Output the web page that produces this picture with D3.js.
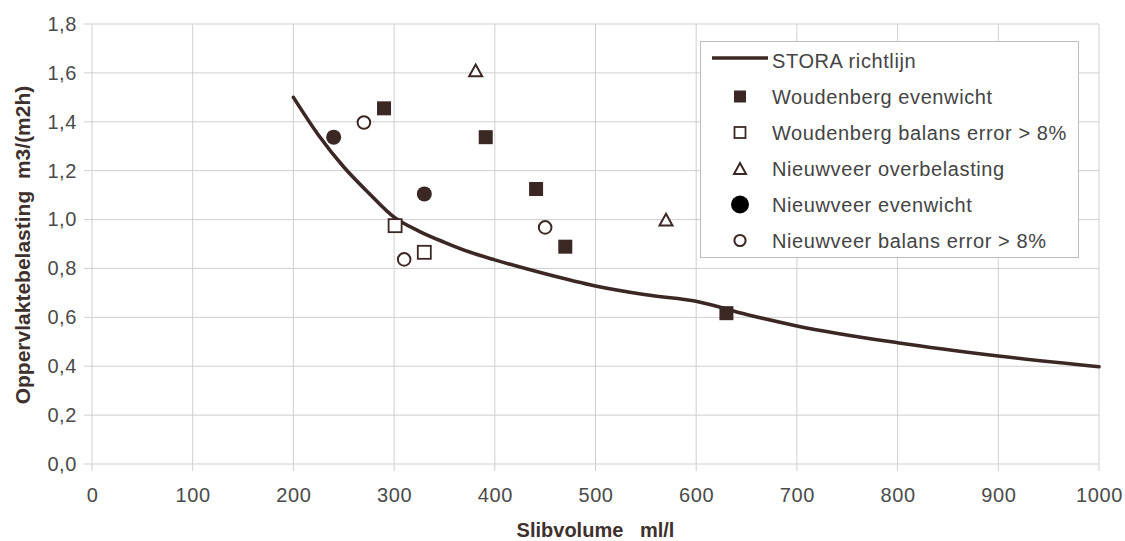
<!DOCTYPE html>
<html>
<head>
<meta charset="utf-8">
<script src="https://cdn.jsdelivr.net/npm/d3@7"></script>
<style>
  html, body { margin: 0; padding: 0; background: #ffffff; }
  svg { display: block; }
  text { font-family: "Liberation Sans", Arial, sans-serif; }
</style>
</head>
<body>
<svg id="chart" width="1125" height="541"></svg>
<script>
// ---- data ----
const xTicks = [0, 100, 200, 300, 400, 500, 600, 700, 800, 900, 1000];
const yTicks = [0, 0.2, 0.4, 0.6, 0.8, 1.0, 1.2, 1.4, 1.6, 1.8];

const storaX = [200, 225, 250, 275, 300, 325, 350, 375, 400, 450, 500, 550, 603, 650, 700, 800, 900, 1000];
const storaY = [1.50, 1.345, 1.215, 1.108, 1.01, 0.952, 0.907, 0.867, 0.835, 0.778, 0.728, 0.692, 0.663, 0.612, 0.565, 0.496, 0.442, 0.398];

const woudEvenX = [290, 391, 441, 470, 630];
const woudEvenY = [1.455, 1.337, 1.125, 0.889, 0.617];

const woudErrX = [301, 330];
const woudErrY = [0.975, 0.866];

const nieuwOverX = [381, 570];
const nieuwOverY = [1.61, 1.0];

const nieuwEvenX = [240, 330];
const nieuwEvenY = [1.337, 1.105];

const nieuwErrX = [270, 310, 450];
const nieuwErrY = [1.397, 0.837, 0.968];

const legendLabels = [
  "STORA richtlijn",
  "Woudenberg evenwicht",
  "Woudenberg balans error > 8%",
  "Nieuwveer overbelasting",
  "Nieuwveer evenwicht",
  "Nieuwveer balans error > 8%"
];

const xTitle = "Slibvolume\u00a0\u00a0\u00a0ml/l";
const yTitle = "Oppervlaktebelasting\u00a0\u00a0m3/(m2h)";

// ---- layout ----
const dark = "#3b2824";
const grid = "#cfcfcf";
const textCol = "#4a4a4a";

const svg = d3.select("#chart");
const x = d3.scaleLinear().domain([0, 1000]).range([92, 1099]);
const y = d3.scaleLinear().domain([0, 1.8]).range([464, 24]);
const fmt = v => d3.format(".1f")(v).replace(".", ",");

// gridlines
svg.append("g").selectAll("line").data(xTicks).join("line")
  .attr("x1", d => x(d)).attr("x2", d => x(d))
  .attr("y1", y(1.8)).attr("y2", y(0) + 7)
  .attr("stroke", grid).attr("stroke-width", 1);
svg.append("g").selectAll("line").data(yTicks).join("line")
  .attr("x1", x(0) - 8).attr("x2", x(1000))
  .attr("y1", d => y(d)).attr("y2", d => y(d))
  .attr("stroke", grid).attr("stroke-width", 1);

// axes (labels via d3 axes)
const xAxis = svg.append("g").attr("transform", `translate(0,${y(0)})`)
  .call(d3.axisBottom(x).tickValues(xTicks).tickSize(0).tickPadding(38).tickFormat(d3.format("d")));
const yAxis = svg.append("g").attr("transform", `translate(${x(0)},0)`)
  .call(d3.axisLeft(y).tickValues(yTicks).tickSize(0).tickPadding(15).tickFormat(fmt));
[xAxis, yAxis].forEach(a => {
  a.select(".domain").remove();
  a.selectAll("text").attr("font-size", 20).attr("fill", textCol)
    .attr("font-family", "'Liberation Sans', Arial, sans-serif").style("letter-spacing", "0.6px");
});
xAxis.selectAll("text").attr("dy", "0em");

// axis titles
svg.append("text").attr("x", x(500)).attr("y", 537)
  .attr("text-anchor", "middle").attr("font-size", 20).attr("font-weight", "bold")
  .attr("fill", "#3e302c").text(xTitle);
svg.append("text").attr("transform", `translate(30,245) rotate(-90)`)
  .attr("text-anchor", "middle").attr("font-size", 21).attr("font-weight", "bold")
  .attr("fill", "#3e302c").text(yTitle);

// STORA line
const storaPts = storaX.map((v, i) => [v, storaY[i]]);
svg.append("path").datum(storaPts)
  .attr("d", d3.line().x(d => x(d[0])).y(d => y(d[1])).curve(d3.curveMonotoneX))
  .attr("fill", "none").attr("stroke", dark).attr("stroke-width", 3.6)
  .attr("stroke-linecap", "round").attr("stroke-linejoin", "round");

// marker helpers
function drawSquare(g, cx, cy, s, filled) {
  g.append("rect").attr("x", cx - s / 2).attr("y", cy - s / 2).attr("width", s).attr("height", s)
    .attr("fill", filled ? dark : "white").attr("stroke", dark).attr("stroke-width", filled ? 0 : 1.8);
}
function drawCircle(g, cx, cy, r, filled, col) {
  g.append("circle").attr("cx", cx).attr("cy", cy).attr("r", r)
    .attr("fill", filled ? (col || dark) : "white").attr("stroke", col || dark).attr("stroke-width", filled ? 0 : 2);
}
function drawTriangle(g, cx, cy, s) {
  const h = s * 0.9;
  g.append("path").attr("d", `M${cx},${cy - h / 2}L${cx + s / 2},${cy + h / 2}L${cx - s / 2},${cy + h / 2}Z`)
    .attr("fill", "white").attr("stroke", dark).attr("stroke-width", 2).attr("stroke-linejoin", "miter");
}

const pts = svg.append("g");
woudEvenX.forEach((v, i) => drawSquare(pts, x(v), y(woudEvenY[i]), 14, true));
woudErrX.forEach((v, i) => drawSquare(pts, x(v), y(woudErrY[i]), 13, false));
nieuwOverX.forEach((v, i) => drawTriangle(pts, x(v), y(nieuwOverY[i]), 13));
nieuwEvenX.forEach((v, i) => drawCircle(pts, x(v), y(nieuwEvenY[i]), 7.5, true));
nieuwErrX.forEach((v, i) => drawCircle(pts, x(v), y(nieuwErrY[i]), 6.3, false));

// legend
const lg = svg.append("g");
lg.append("rect").attr("x", 700.5).attr("y", 41.5).attr("width", 378).attr("height", 216)
  .attr("fill", "white").attr("stroke", "#bdbdbd").attr("stroke-width", 1);
const rowBase = i => 67.5 + 36 * i;
legendLabels.forEach((t, i) => {
  lg.append("text").attr("x", 772).attr("y", rowBase(i)).attr("font-size", 20)
    .attr("fill", "#444").style("letter-spacing", "0.6px").text(t);
});
const mx = 740;
lg.append("line").attr("x1", 712).attr("x2", 768).attr("y1", 58).attr("y2", 58)
  .attr("stroke", dark).attr("stroke-width", 3.6);
drawSquare(lg, mx, rowBase(1) - 7, 12, true);
drawSquare(lg, mx, rowBase(2) - 7, 11, false);
drawTriangle(lg, mx, rowBase(3) - 7, 12);
drawCircle(lg, mx, rowBase(4) - 7, 9, true, "#000");
drawCircle(lg, mx, rowBase(5) - 7, 5.6, false);
</script>
</body>
</html>
